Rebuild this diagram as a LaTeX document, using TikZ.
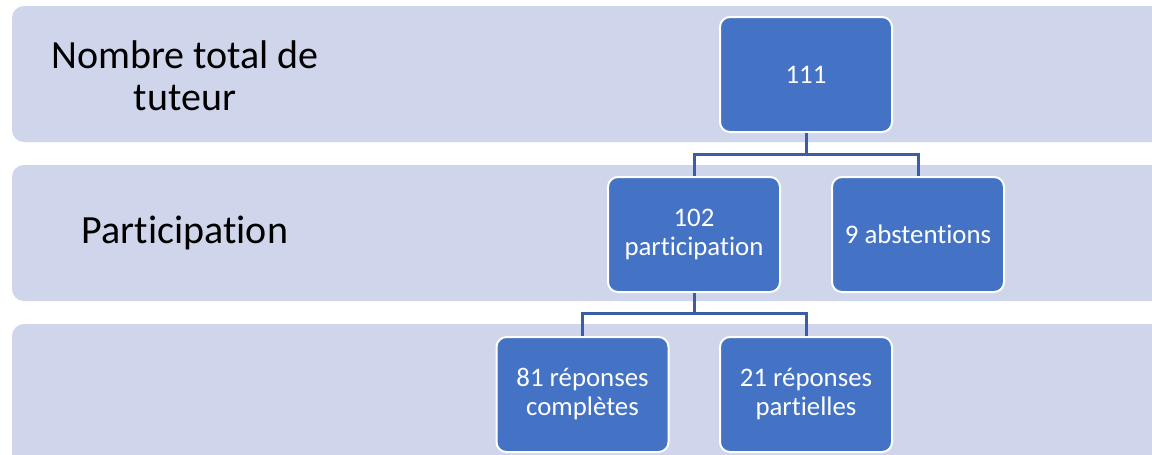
\documentclass[tikz,border=0pt]{standalone}
\usepackage{fontspec}
\setmainfont{Carlito}[Ligatures={NoCommon}]
\definecolor{bandc}{HTML}{CFD5EA}
\definecolor{boxc}{HTML}{4472C4}
\definecolor{connc}{HTML}{3B5DA5}
\begin{document}
\begin{tikzpicture}[x=1pt,y=-1pt,
  bandstyle/.style={fill=bandc, rounded corners=12pt},
  box/.style={draw=white, line width=2pt, fill=boxc, rounded corners=10pt,
    minimum width=172pt, minimum height=115pt, inner sep=0pt, text=white,
    font=\fontsize{26.8}{29}\selectfont, align=center},
  lbl/.style={font=\fontsize{40}{42}\selectfont, align=center, text=black},
  conn/.style={draw=connc, line width=3pt}]
\useasboundingbox (0,0) rectangle (1152,455);
\clip (0,0) rectangle (1152,455);
\fill[white] (0,0) rectangle (1152,455);
\fill[bandstyle] (12,6) rectangle (1190,142);
\fill[bandstyle] (12,165) rectangle (1190,301);
\fill[bandstyle] (12,324) rectangle (1190,490);
\node[lbl] (l1) at (185,76) {Nombre total de\\tuteur};
\node[lbl] (l2) at (185,233) {Participation};
\coordinate (b1) at (806,154);
\coordinate (b2) at (694,313);
\node[box] (n111) at (806,74.5) {111};
\node[box] (n102) at (694,234.5) {102\\participation};
\node[box] (n9) at (918,234.5) {9 abstentions};
\node[box] (n81) at (582.5,394.5) {81 réponses\\complètes};
\node[box] (n21) at (806,394.5) {21 réponses\\partielles};
\draw[conn] (n111.south) -- (b1);
\draw[conn] (n102.north) |- (b1) -| (n9.north);
\draw[conn] (n102.south) -- (b2);
\draw[conn] (n81.north) |- (b2) -| (n21.north);
\end{tikzpicture}
\end{document}
